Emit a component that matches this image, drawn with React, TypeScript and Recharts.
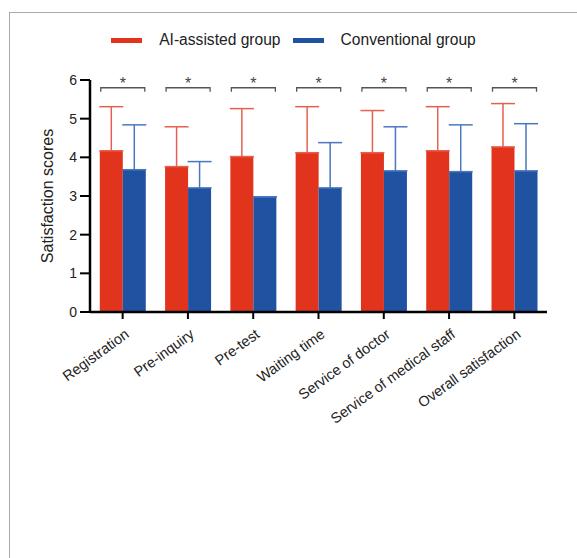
import { BarChart, Bar, XAxis, YAxis, ErrorBar, LabelList, Legend } from 'recharts'

const categories = [
  'Registration',
  'Pre-inquiry',
  'Pre-test',
  'Waiting time',
  'Service of doctor',
  'Service of medical staff',
  'Overall satisfaction',
]
const aiMeans = [4.17, 3.76, 4.02, 4.12, 4.12, 4.17, 4.27]
const aiSD = [1.14, 1.03, 1.24, 1.19, 1.09, 1.14, 1.12]
const convMeans = [3.68, 3.21, 2.98, 3.21, 3.65, 3.63, 3.65]
const convSD = [1.16, 0.68, 0, 1.17, 1.14, 1.21, 1.22]
const yTicks = [0, 1, 2, 3, 4, 5, 6]
const sigMarks = ['*', '*', '*', '*', '*', '*', '*']
const sigLevel = 5.8

const RED = '#e2341d'
const BLUE = '#1f53a1'

const data = categories.map((name, i) => ({
  name,
  ai: aiMeans[i],
  aiErr: [0, aiSD[i]],
  conv: convMeans[i],
  convErr: [0, convSD[i]],
  sig: sigMarks[i],
}))

const XTick = ({ x, y, payload }: any) => (
  <g transform={`translate(${x - 1},${y + 9})`}>
    <text x={3} y={0} dy={10} textAnchor="end" transform="rotate(-36)" fontSize={14.5} fill="#222">
      {payload.value}
    </text>
  </g>
)

// bracket + star drawn over each pair, positioned from the red bar's box
const SigMark = (props: any) => {
  const vb = props.viewBox ?? props
  const { x, y, width, height } = vb
  const value = aiMeans[props.index]
  if (!height || !value) return null
  const unit = height / value
  const zero = y + height
  const by = zero - sigLevel * unit
  const x1 = x + 1
  const x2 = x + width * 2 - 1
  return (
    <g>
      <path d={`M${x1},${by + 4}V${by}H${x2}V${by + 4}`} fill="none" stroke="#555" strokeWidth={1.3} />
      <text x={(x1 + x2) / 2} y={by + 1} textAnchor="middle" fontSize={16} fill="#444">
        {sigMarks[props.index]}
      </text>
    </g>
  )
}

const LegendBox = ({ payload }: any) => (
  <div style={{ display: 'flex', justifyContent: 'center', alignItems: 'center', fontSize: 15.6, color: '#222' }}>
    {(payload ?? []).map((p: any, i: number) => (
      <div key={i} style={{ display: 'flex', alignItems: 'center', marginRight: i === 0 ? 12 : 0 }}>
        <span style={{ width: 31, height: 5, background: p.color, display: 'inline-block', marginRight: 17 }} />
        <span>{p.value}</span>
      </div>
    ))}
  </div>
)

export default function App() {
  return (
    <div
      style={{
        position: 'absolute', top: 0, left: 0, width: 577, height: 558, background: '#fff',
        fontFamily: '"Liberation Sans", Arial, sans-serif', overflow: 'hidden',
      }}
    >
      <div
        style={{
          position: 'absolute', left: 9, top: 12, width: 577, height: 558,
          borderTop: '1.5px solid #aaa', borderLeft: '1.5px solid #aaa',
        }}
      />
      <div style={{ position: 'absolute', top: 0, left: 0 }}>
        <BarChart
          width={577}
          height={558}
          data={data}
          margin={{ top: 80, right: 30, left: 4, bottom: 186 }}
          barCategoryGap="15%"
          barGap={0}
        >
          <Legend
            layout="horizontal"
            verticalAlign="middle"
            align="center"
            content={<LegendBox />}
            wrapperStyle={{ top: 31, left: 5, width: 577 }}
          />
          <XAxis
            dataKey="name"
            interval={0}
            tick={<XTick />}
            axisLine={{ stroke: '#000', strokeWidth: 2.5 }}
            tickLine={{ stroke: '#000', strokeWidth: 2 }}
            tickSize={7}
            tickMargin={2}
            height={60}
          />
          <YAxis
            domain={[0, 6]}
            ticks={yTicks}
            width={86}
            axisLine={{ stroke: '#000', strokeWidth: 2.5 }}
            tickLine={{ stroke: '#000', strokeWidth: 2 }}
            tickSize={10}
            tickMargin={3}
            tick={{ fill: '#222', fontSize: 14 }}
            label={{ value: 'Satisfaction scores', angle: -90, position: 'center', fontSize: 16, fill: '#222' }}
          />
          <Bar dataKey="ai" name="AI-assisted group" fill={RED} isAnimationActive={false}>
            <ErrorBar dataKey="aiErr" width={12} strokeWidth={1.5} stroke="#e6604f" direction="y" />
            <LabelList dataKey="sig" content={<SigMark />} />
          </Bar>
          <Bar dataKey="conv" name="Conventional group" fill={BLUE} isAnimationActive={false}>
            <ErrorBar dataKey="convErr" width={12} strokeWidth={1.5} stroke="#4a77bd" direction="y" />
          </Bar>
        </BarChart>
      </div>
    </div>
  )
}
